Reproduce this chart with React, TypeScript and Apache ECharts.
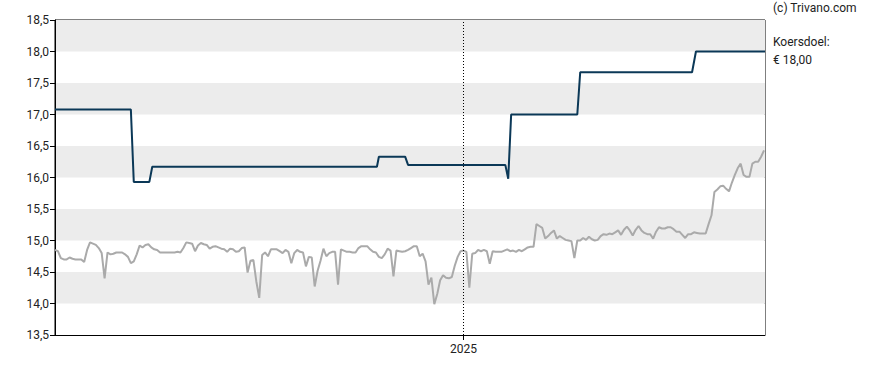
import { useEffect, useRef } from 'react';
import * as echarts from 'echarts';

// x-range of the chart
const START_DATE = '2023-11-08';
const END_DATE = '2025-11-07';
const PRICE_STEP_DAYS = 3;
const YEAR_MARK = '2025-01-01';

// y-axis
const Y_MIN = 13.5;
const Y_MAX = 18.5;
const Y_STEP = 0.5;

// share price (grey), one value per 3 days from START_DATE
const priceValues = [
  14.85, 14.83, 14.72, 14.70, 14.70, 14.73, 14.71, 14.70, 14.70, 14.70,
  14.66, 14.85, 14.97, 14.95, 14.93, 14.88, 14.80, 14.40, 14.81, 14.78,
  14.79, 14.81, 14.81, 14.81, 14.78, 14.74, 14.64, 14.67, 14.78, 14.92,
  14.89, 14.93, 14.94, 14.89, 14.86, 14.85, 14.81, 14.81, 14.81, 14.81,
  14.81, 14.81, 14.82, 14.81, 14.88, 14.97, 14.96, 14.95, 14.83, 14.92,
  14.96, 14.94, 14.93, 14.87, 14.90, 14.91, 14.89, 14.87, 14.86, 14.82,
  14.87, 14.86, 14.82, 14.83, 14.88, 14.89, 14.49, 14.68, 14.69, 14.35,
  14.09, 14.77, 14.81, 14.75, 14.86, 14.86, 14.86, 14.83, 14.80, 14.85,
  14.82, 14.64, 14.80, 14.85, 14.82, 14.81, 14.59, 14.74, 14.73, 14.27,
  14.52, 14.68, 14.87, 14.75, 14.80, 14.82, 14.82, 14.30, 14.86, 14.84,
  14.82, 14.82, 14.81, 14.81, 14.88, 14.91, 14.91, 14.91, 14.86, 14.82,
  14.81, 14.74, 14.72, 14.78, 14.87, 14.84, 14.43, 14.84, 14.83, 14.82,
  14.83, 14.85, 14.88, 14.91, 14.91, 14.75, 14.79, 14.67, 14.30, 14.41,
  13.99, 14.15, 14.37, 14.45, 14.41, 14.40, 14.42, 14.60, 14.74, 14.83,
  14.84, 14.82, 14.25, 14.79, 14.80, 14.85, 14.83, 14.85, 14.83, 14.63,
  14.83, 14.82, 14.82, 14.82, 14.84, 14.86, 14.83, 14.84, 14.82, 14.85,
  14.83, 14.86, 14.89, 14.90, 14.90, 15.26, 15.23, 15.20, 15.03, 15.07,
  15.12, 15.16, 15.03, 15.07, 15.04, 15.01, 15.00, 14.99, 14.72, 15.00,
  15.00, 15.04, 15.01, 15.06, 15.02, 15.00, 15.01, 15.07, 15.10, 15.09,
  15.11, 15.10, 15.13, 15.16, 15.09, 15.17, 15.22, 15.16, 15.08, 15.17,
  15.23, 15.16, 15.12, 15.10, 15.10, 15.03, 15.14, 15.21, 15.19, 15.19,
  15.21, 15.21, 15.18, 15.14, 15.14, 15.09, 15.04, 15.10, 15.10, 15.13,
  15.12, 15.11, 15.11, 15.11, 15.26, 15.40, 15.77, 15.81, 15.86, 15.87,
  15.82, 15.78, 15.92, 16.04, 16.15, 16.22, 16.04, 16.01, 16.01, 16.22,
  16.25, 16.25, 16.33, 16.43,
];

// price target (dark blue)
const targetDates = [
  '2023-11-08', '2024-01-25', '2024-01-28', '2024-02-13', '2024-02-16',
  '2024-10-04', '2024-10-06', '2024-11-02', '2024-11-05', '2025-02-13',
  '2025-02-16', '2025-02-19', '2025-04-28', '2025-05-01', '2025-08-24',
  '2025-08-28', '2025-11-07',
];
const targetValues = [
  17.08, 17.08, 15.93, 15.93, 16.17,
  16.17, 16.33, 16.33, 16.20, 16.20,
  15.98, 17.00, 17.00, 17.67, 17.67,
  18.00, 18.00,
];

const sourceText = '(c) Trivano.com';
const targetLabel = 'Koersdoel:';
const targetValueText = '€ 18,00';

const DAY_MS = 86400000;
const toTime = (s: string) => {
  const [y, m, d] = s.split('-').map(Number);
  return new Date(y, m - 1, d).getTime();
};

export default function App() {
  const ref = useRef<HTMLDivElement>(null);

  useEffect(() => {
    if (!ref.current) return;
    const chart = echarts.init(ref.current, undefined, { renderer: 'svg' });
    const start = toTime(START_DATE);
    const end = toTime(END_DATE);
    const yearMark = toTime(YEAR_MARK);

    const priceData = priceValues.map((v, i) => [start + i * PRICE_STEP_DAYS * DAY_MS, v]);
    const targetData = targetDates.map((d, i) => [toTime(d), targetValues[i]]);

    chart.setOption({
      animation: false,
      textStyle: { fontFamily: 'Roboto' },
      grid: {
        left: 55,
        top: 20,
        right: 123,
        bottom: 35,
        show: true,
        borderColor: '#000',
        borderWidth: 1,
        backgroundColor: 'transparent',
      },
      xAxis: {
        type: 'value',
        min: start,
        max: end,
        axisLine: { show: true, lineStyle: { color: '#000', width: 1 } },
        axisTick: {
          show: true,
          length: 5,
          customValues: [yearMark],
          lineStyle: { color: '#000' },
        },
        axisLabel: {
          show: true,
          customValues: [yearMark],
          formatter: (v: number) => String(new Date(v).getFullYear()),
          color: '#222',
          fontSize: 12,
          margin: 8,
          fontFamily: 'Roboto',
        },
        splitLine: { show: false },
        splitArea: { show: false },
      },
      yAxis: {
        type: 'value',
        min: Y_MIN,
        max: Y_MAX,
        interval: Y_STEP,
        axisLine: { show: true, lineStyle: { color: '#000', width: 1 } },
        axisTick: { show: true, length: 5, lineStyle: { color: '#000' } },
        axisLabel: {
          color: '#222',
          fontSize: 12,
          margin: 6,
          fontFamily: 'Roboto',
          formatter: (v: number) => v.toFixed(1).replace('.', ','),
        },
        splitLine: { show: false },
        splitArea: { show: true, areaStyle: { color: ['#ffffff', '#ececec'] } },
      },
      series: [
        {
          type: 'line',
          data: priceData,
          showSymbol: false,
          symbol: 'none',
          lineStyle: { color: '#aaaaaa', width: 2 },
          z: 2,
          markLine: {
            silent: true,
            symbol: 'none',
            label: { show: false },
            lineStyle: { color: '#000', width: 1, type: [1, 2] },
            data: [{ xAxis: yearMark }],
          },
        },
        {
          type: 'line',
          data: targetData,
          showSymbol: false,
          symbol: 'none',
          lineStyle: { color: '#0b3857', width: 2 },
          z: 3,
        },
      ],
      graphic: [
        {
          type: 'text',
          left: 773,
          top: 2,
          style: { text: sourceText, fill: '#222', font: '12px Roboto' },
        },
        {
          type: 'text',
          left: 773,
          top: 36,
          style: { text: targetLabel, fill: '#222', font: '12px Roboto' },
        },
        {
          type: 'text',
          left: 773,
          top: 54,
          style: { text: targetValueText, fill: '#222', font: '12px Roboto' },
        },
      ],
    });

    return () => chart.dispose();
  }, []);

  return (
    <div
      ref={ref}
      style={{ position: 'fixed', left: 0, top: 0, width: 888, height: 370, background: '#fff' }}
    />
  );
}
